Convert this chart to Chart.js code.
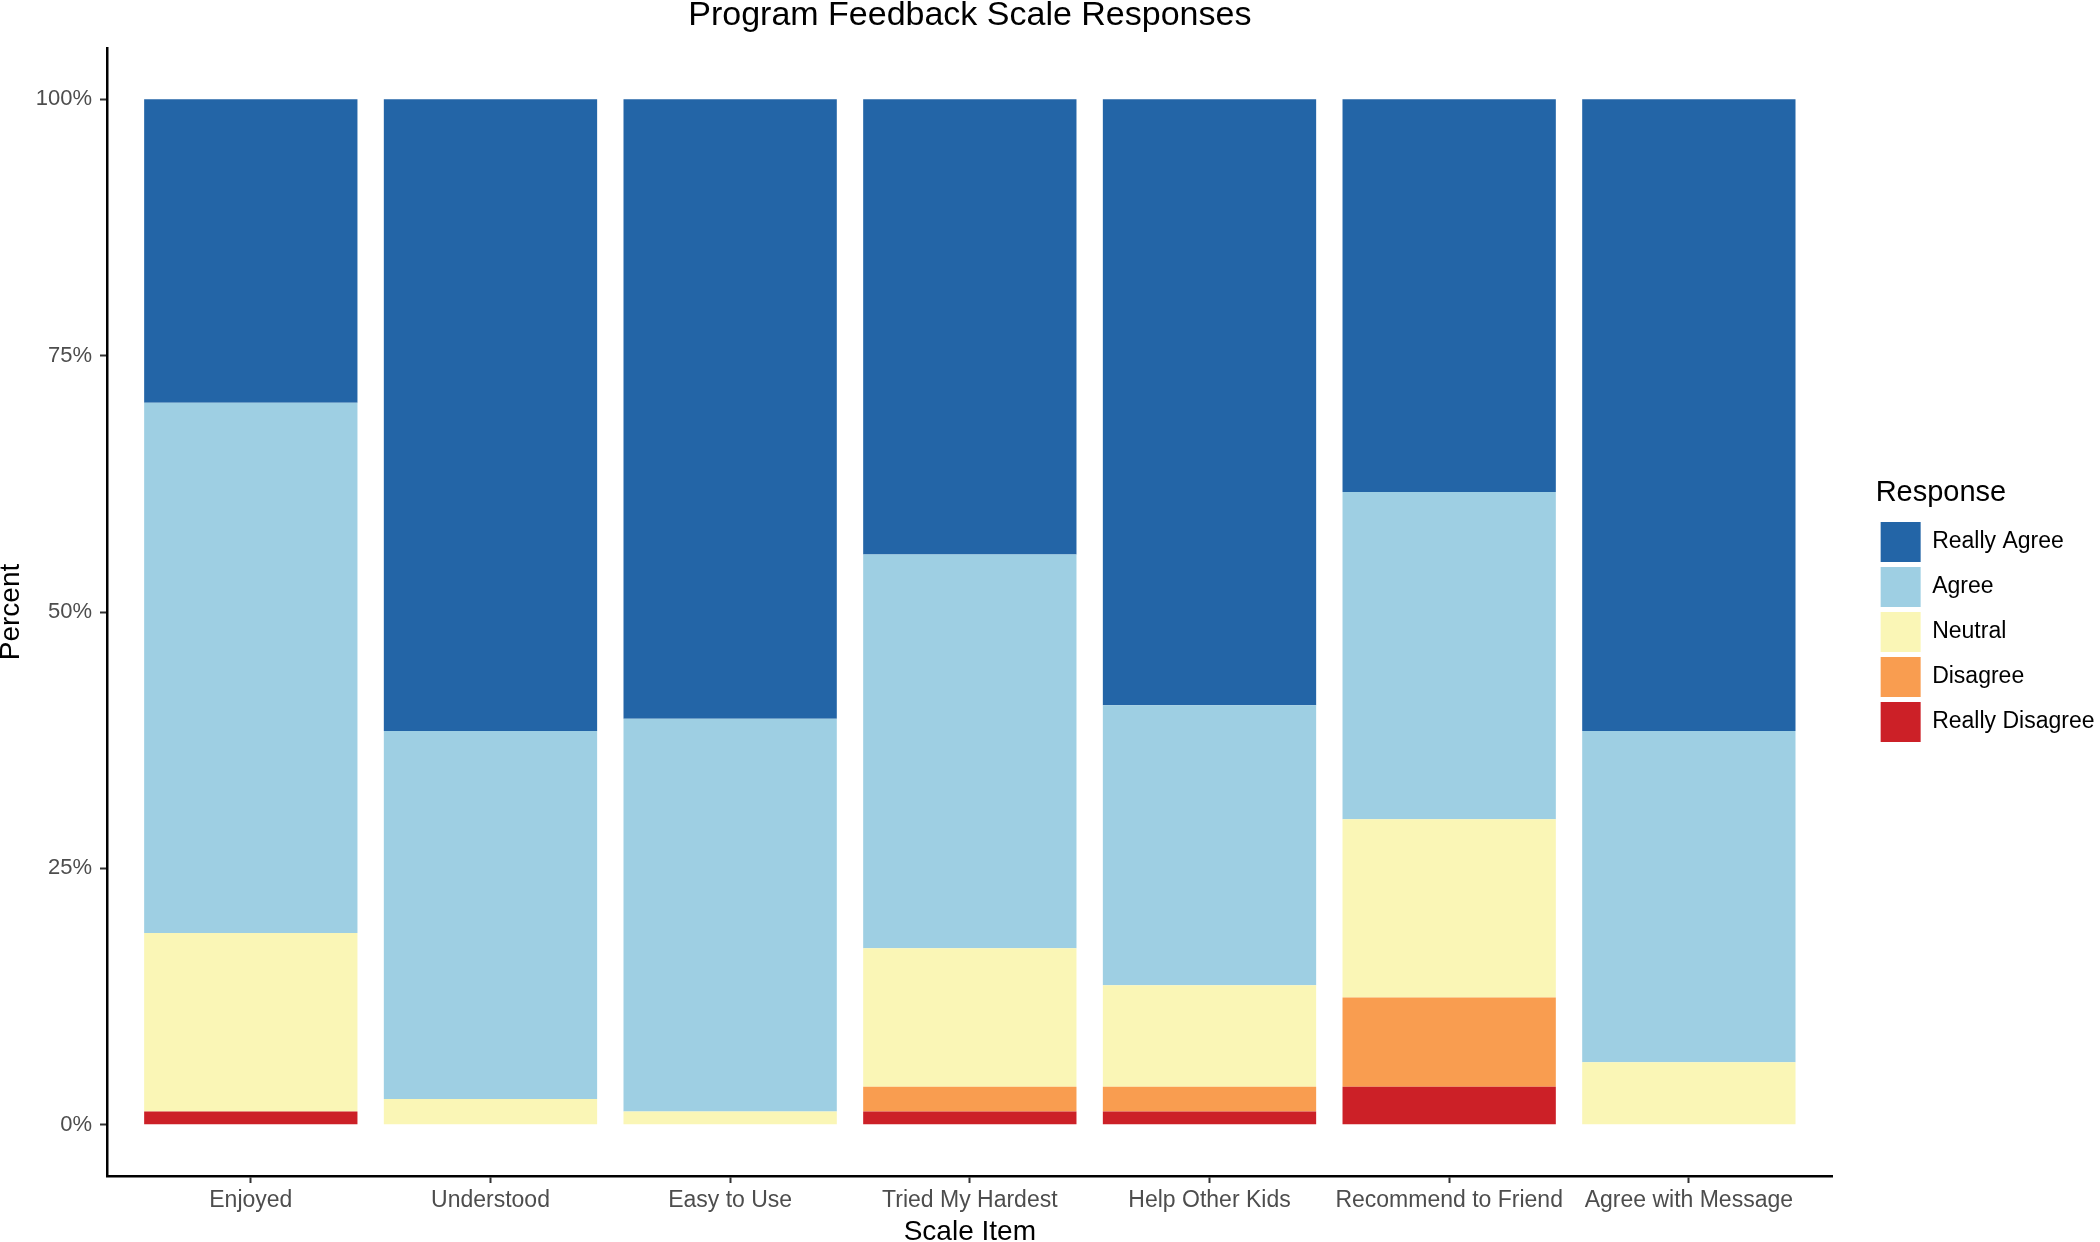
<!DOCTYPE html>
<html>
<head>
<meta charset="utf-8">
<script src="https://cdn.jsdelivr.net/npm/chart.js@4/dist/chart.umd.min.js"></script>
<style>
  html, body { margin: 0; padding: 0; background: #fff; }
  #wrap { width: 2100px; height: 1242px; }
</style>
</head>
<body>
<div id="wrap"><canvas id="myChart" width="2100" height="1242"></canvas></div>
<script>
// categories along the x axis
var items = ["Enjoyed", "Understood", "Easy to Use", "Tried My Hardest", "Help Other Kids", "Recommend to Friend", "Agree with Message"];
// percent of responses per item
var reallyDisagree = [1.3, 0, 0, 1.3, 1.3, 3.7, 0];
var disagree       = [0, 0, 0, 2.4, 2.4, 8.7, 0];
var neutral        = [17.4, 2.5, 1.3, 13.5, 9.9, 17.4, 6.1];
var agree          = [51.7, 35.9, 38.3, 38.4, 27.3, 31.9, 32.3];
var reallyAgree    = [29.6, 61.6, 60.4, 44.4, 59.1, 38.3, 61.6];
var yTicks = [0, 25, 50, 75, 100];

var font = "'Liberation Sans', Arial, Helvetica, sans-serif";

function pts(vals) {
    return vals.map(function(v, i){ return {x: i, y: v}; });
}

function ds(label, vals, fill) {
    return {
        label: label,
        data: pts(vals),
        backgroundColor: fill,
        borderColor: fill,
        borderWidth: 0,
        categoryPercentage: 1,
        barPercentage: 0.89
    };
}

var ctx = document.getElementById("myChart").getContext("2d");
var myChart = new Chart(ctx, {
    type: 'bar',
    data: {
        datasets: [
            ds("Really Disagree", reallyDisagree, "#cc2027"),
            ds("Disagree", disagree, "#f99d50"),
            ds("Neutral", neutral, "#faf6b6"),
            ds("Agree", agree, "#9ecfe3"),
            ds("Really Agree", reallyAgree, "#2365a7")
        ]
    },
    options: {
        responsive: false,
        animation: false,
        layout: { padding: { top: 0, right: -4.5, bottom: 0, left: 0 } },
        plugins: {
            tooltip: { enabled: false },
            title: {
                display: true,
                text: "Program Feedback Scale Responses",
                fullSize: false,
                color: "#000",
                font: { family: font, size: 34, weight: 'normal', lineHeight: 1 },
                padding: { top: -1, bottom: 15 }
            },
            legend: {
                position: 'right',
                reverse: true,
                title: {
                    display: true,
                    text: "Response",
                    position: 'start',
                    color: "#000",
                    font: { family: font, size: 29, lineHeight: 1.2 },
                    padding: { top: -16.5, bottom: 3.7 }
                },
                labels: {
                    boxWidth: 40,
                    boxHeight: 40,
                    padding: 5,
                    color: "#000",
                    font: { family: font, size: 23 }
                }
            }
        },
        scales: {
            x: {
                type: 'linear',
                stacked: true,
                offset: false,
                min: -0.6,
                max: 6.6,
                afterBuildTicks: function(s){
                    s.ticks = items.map(function(c, i){ return {value: i}; });
                },
                afterFit: function(s){ s.height = 66; },
                grid: { offset: false, drawOnChartArea: false, drawTicks: true, tickLength: 7, tickColor: "#333", tickWidth: 2 },
                border: { display: true, color: "#000", width: 2.5 },
                ticks: {
                    color: "#4d4d4d",
                    padding: 3.5,
                    maxRotation: 0,
                    autoSkip: false,
                    font: { family: font, size: 23 },
                    callback: function(v){ return items[v]; }
                },
                title: {
                    display: true,
                    text: "Scale Item",
                    color: "#000",
                    font: { family: font, size: 28, lineHeight: 1 },
                    padding: { top: 0, bottom: -4.5 }
                }
            },
            y: {
                stacked: true,
                min: -5,
                max: 105,
                afterBuildTicks: function(s){
                    s.ticks = yTicks.map(function(v){ return {value: v}; });
                },
                afterFit: function(s){ s.width = 107; },
                grid: { drawOnChartArea: false, drawTicks: true, tickLength: 7, tickColor: "#333", tickWidth: 2 },
                border: { display: true, color: "#000", width: 2.5 },
                ticks: {
                    color: "#4d4d4d",
                    padding: 8,
                    font: { family: font, size: 22 },
                    callback: function(v){ return v + "%"; }
                },
                title: {
                    display: true,
                    text: "Percent",
                    color: "#000",
                    font: { family: font, size: 28, lineHeight: 1 },
                    padding: { top: -3, bottom: 0 }
                }
            },
            spacer: {
                position: 'right',
                display: true,
                grid: { display: false },
                border: { display: false },
                ticks: { display: false },
                afterFit: function(s){ s.width = 43; }
            }
        }
    }
});
</script>
</body>
</html>
